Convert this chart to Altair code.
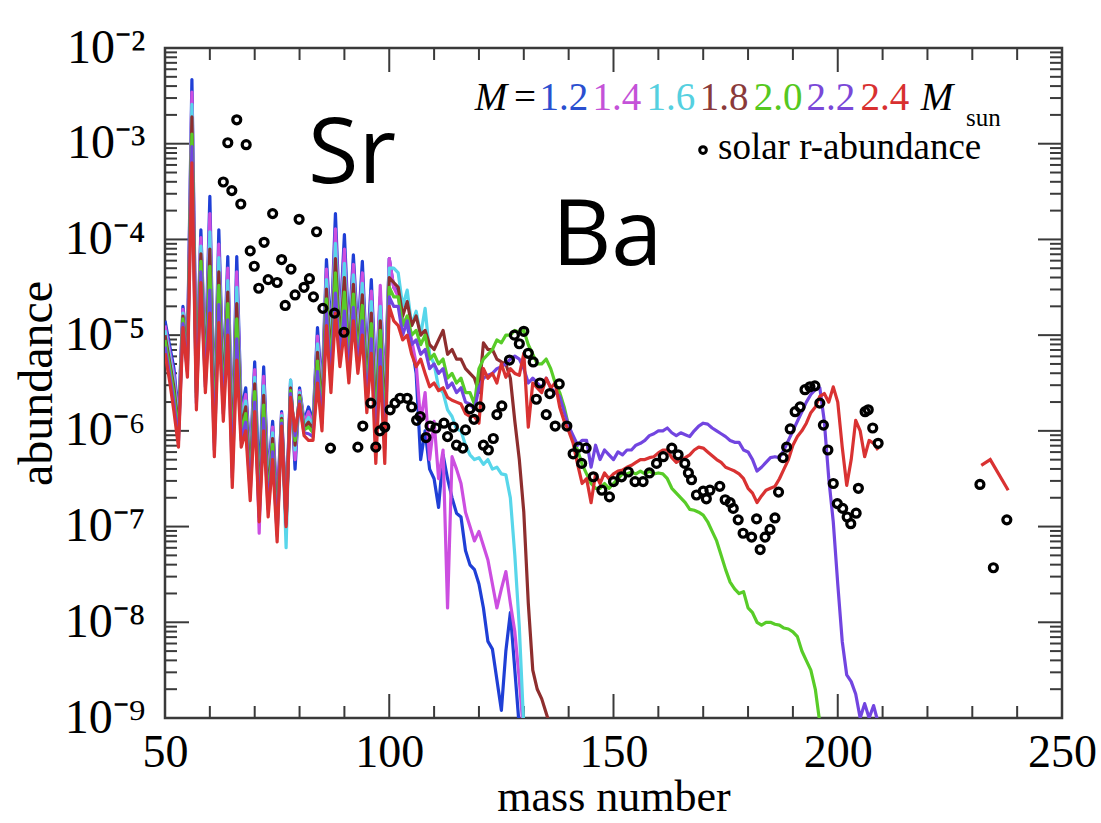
import altair as alt
import numpy as np
import pandas as pd

# ---------------- data (log10 abundance, consecutive mass numbers from A_START) ----------------
A_START = 50

m12_log = [-4.85, -5.10, -5.35, -5.85, -4.70, -5.15, -2.33, -5.45, -3.90, -5.30,
           -3.55, -5.90, -3.90, -5.50, -4.18, -6.10, -4.18, -5.80, -5.55, -6.30,
           -5.28, -6.60, -5.33, -6.50, -5.90, -6.80, -5.80, -6.90, -5.47, -6.40,
           -5.55, -5.90, -5.75, -5.90, -4.92, -5.60, -4.21, -5.00, -3.73, -4.90,
           -3.95, -5.00, -4.16, -5.00, -4.23, -5.30, -4.42, -5.50, -4.60, -5.60,
           -4.20, -4.50, -4.55, -4.85, -4.90, -5.10, -5.40, -6.30, -6.00, -6.40,
           -6.50, -6.80, -6.25, -6.50, -6.70, -6.86, -6.90, -7.25, -7.40, -7.45,
           -7.60, -7.85, -8.20, -8.28, -8.60, -8.92, -8.30, -7.90, -8.50, -9.10]

m14_log = [-4.90, -5.16, -5.42, -5.90, -4.73, -5.19, -2.46, -5.50, -3.98, -5.35,
           -3.73, -5.96, -4.05, -5.56, -4.30, -6.17, -4.34, -5.86, -5.62, -6.36,
           -5.36, -7.07, -5.43, -6.56, -5.96, -6.85, -5.82, -6.92, -5.50, -6.30,
           -5.58, -5.92, -5.80, -5.93, -5.01, -5.66, -4.31, -5.09, -3.89, -4.96,
           -4.10, -5.08, -4.26, -5.06, -4.35, -5.38, -4.54, -5.63, -4.48, -5.71,
           -4.20, -4.50, -4.60, -4.85, -4.85, -5.05, -5.30, -5.90, -5.60, -6.30,
           -5.90, -6.50, -6.20, -7.85, -6.27, -6.40, -6.55, -6.85, -7.00, -7.15,
           -7.05, -7.20, -7.35, -7.60, -7.85, -7.65, -7.47, -7.80, -8.10, -8.60, -9.20]

m16_log = [-4.95, -5.21, -5.49, -5.95, -4.77, -5.24, -2.59, -5.55, -4.07, -5.39,
           -3.92, -6.01, -4.19, -5.62, -4.43, -6.25, -4.50, -5.91, -5.69, -6.43,
           -5.44, -6.75, -5.53, -6.62, -6.02, -7.10, -5.84, -7.22, -5.47, -6.20,
           -5.60, -5.94, -5.86, -5.96, -5.09, -5.72, -4.42, -5.18, -4.04, -5.03,
           -4.25, -5.15, -4.37, -5.12, -4.46, -5.45, -4.65, -5.75, -4.70, -5.82,
           -4.30, -4.30, -4.35, -4.70, -4.53, -4.90, -4.75, -5.00, -4.72, -5.20,
           -5.30, -5.55, -5.60, -5.78, -5.85, -5.98, -6.00, -6.15, -6.25, -6.30,
           -6.28, -6.35, -6.30, -6.40, -6.38, -6.45, -6.46, -6.70, -7.30, -8.05, -9.10]

m18_log = [-5.00, -5.27, -5.55, -6.00, -4.80, -5.28, -2.72, -5.60, -4.15, -5.44,
           -4.10, -6.07, -4.34, -5.68, -4.55, -6.32, -4.67, -5.97, -5.75, -6.49,
           -5.51, -6.80, -5.63, -6.68, -6.08, -6.95, -5.87, -6.95, -5.55, -6.15,
           -5.63, -5.97, -5.91, -5.99, -5.18, -5.78, -4.52, -5.27, -4.20, -5.09,
           -4.40, -5.23, -4.47, -5.18, -4.58, -5.53, -4.77, -5.88, -4.85, -5.93,
           -4.40, -4.45, -4.50, -4.80, -4.65, -4.90, -4.80, -5.00, -4.95, -5.10,
           -5.15, -5.05, -4.95, -5.20, -5.15, -5.25, -5.25, -5.35, -5.40, -5.45,
           -5.60, -5.08, -5.15, -5.15, -5.25, -5.28, -5.30, -5.45, -5.90, -6.30,
           -6.85, -7.80, -8.50, -8.70, -8.80, -8.95, -9.10]

m20_log = [-5.05, -5.32, -5.62, -6.04, -4.83, -5.32, -2.90, -5.65, -4.23, -5.48,
           -4.28, -6.12, -4.48, -5.74, -4.67, -6.39, -4.83, -6.02, -5.82, -6.56,
           -5.59, -6.85, -5.73, -6.74, -6.14, -7.00, -5.89, -6.96, -5.58, -6.10,
           -5.65, -5.99, -5.96, -6.02, -5.27, -5.84, -4.62, -5.36, -4.35, -5.16,
           -4.55, -5.30, -4.57, -5.24, -4.69, -5.61, -4.88, -6.00, -4.95, -6.04,
           -4.50, -4.60, -4.60, -4.90, -4.80, -5.00, -4.95, -5.10, -5.00, -5.25,
           -5.20, -5.30, -5.25, -5.45, -5.40, -5.50, -5.45, -5.60, -5.60, -5.72,
           -5.35, -5.25, -5.20, -5.15, -5.05, -5.08, -5.00, -5.00, -4.95, -4.97,
           -4.95, -5.10, -5.20, -5.30, -5.30, -5.25, -5.35, -5.50, -5.60, -5.75,
           -5.95, -6.10, -6.20, -6.35, -6.45, -6.55, -6.60, -6.60, -6.55, -6.60,
           -6.55, -6.50, -6.45, -6.45, -6.43, -6.45, -6.42, -6.45, -6.42, -6.45,
           -6.44, -6.45, -6.50, -6.60, -6.65, -6.70, -6.75, -6.82, -6.83, -6.85,
           -6.88, -6.95, -7.05, -7.15, -7.30, -7.45, -7.58, -7.65, -7.70, -7.68,
           -7.85, -7.90, -8.00, -8.03, -8.00, -8.00, -8.02, -8.03, -8.06, -8.07,
           -8.10, -8.15, -8.30, -8.40, -8.50, -8.70, -9.05]

m22_log = [-5.12, -5.40, -5.71, -6.11, -4.88, -5.38, -3.03, -5.71, -4.34, -5.54,
           -4.53, -6.20, -4.68, -5.82, -4.84, -6.49, -5.04, -6.10, -5.91, -6.64,
           -5.70, -6.90, -5.87, -6.82, -6.22, -7.08, -5.92, -6.98, -5.61, -6.05,
           -5.69, -6.02, -6.03, -6.06, -5.38, -5.92, -4.76, -5.48, -4.56, -5.24,
           -4.75, -5.40, -4.71, -5.32, -4.85, -5.71, -5.04, -6.17, -5.15, -6.19,
           -4.60, -4.70, -4.70, -5.00, -4.85, -5.10, -5.05, -5.20, -5.15, -5.35,
           -5.30, -5.40, -5.35, -5.55, -5.50, -5.60, -5.55, -5.70, -5.72, -5.78,
           -5.55, -5.45, -5.42, -5.40, -5.35, -5.33, -5.30, -5.25, -5.22, -5.25,
           -5.35, -5.50, -5.45, -5.50, -5.55, -5.45, -5.55, -5.60, -5.64, -5.80,
           -5.95, -6.05, -6.15, -6.10, -6.10, -6.38, -6.15, -6.30, -6.20, -6.25,
           -6.30, -6.22, -6.25, -6.20, -6.20, -6.15, -6.13, -6.10, -6.05, -6.03,
           -6.00, -6.00, -5.97, -6.02, -6.05, -6.02, -6.04, -6.06, -6.00, -5.95,
           -5.92, -5.93, -5.97, -6.00, -6.03, -6.06, -6.10, -6.12, -6.12, -6.20,
           -6.22, -6.30, -6.42, -6.38, -6.33, -6.28, -6.27, -6.28, -6.20, -6.10,
           -6.00, -5.90, -5.80, -5.70, -5.62, -5.57, -5.55, -5.90, -6.50, -6.95,
           -7.60, -8.20, -8.55, -8.62, -8.75, -9.00, -8.85, -9.00, -8.87, -9.05]

m24_log = [-5.19, -5.47, -5.80, -6.17, -4.92, -5.44, -3.20, -5.78, -4.45, -5.60,
           -4.77, -6.27, -4.87, -5.90, -5.00, -6.59, -5.26, -6.17, -6.00, -6.73,
           -5.80, -6.95, -6.00, -6.90, -6.30, -7.16, -5.95, -7.00, -5.65, -6.00,
           -5.72, -6.05, -6.10, -6.10, -5.50, -6.00, -4.90, -5.60, -4.77, -5.33,
           -4.95, -5.50, -4.85, -5.40, -5.00, -5.81, -5.19, -6.34, -5.33, -6.34,
           -4.70, -4.85, -4.90, -5.05, -5.00, -5.20, -5.33, -5.25, -5.40, -5.54,
           -5.50, -5.58, -5.55, -5.65, -5.68, -5.70, -5.72, -5.82, -5.85, -5.85,
           -5.92, -5.35, -5.45, -5.40, -5.50, -5.30, -5.44, -5.35, -5.40, -5.42,
           -5.19, -5.96, -5.50, -5.55, -5.60, -5.45, -5.55, -5.50, -5.75, -5.90,
           -6.00, -6.13, -6.35, -6.55, -6.50, -6.75, -6.45, -6.55, -6.44, -6.50,
           -6.45, -6.42, -6.41, -6.38, -6.36, -6.33, -6.30, -6.30, -6.28, -6.27,
           -6.23, -6.20, -6.20, -6.28, -6.33, -6.30, -6.28, -6.25, -6.20, -6.17,
           -6.18, -6.22, -6.26, -6.30, -6.33, -6.38, -6.40, -6.42, -6.45, -6.50,
           -6.60, -6.65, -6.75, -6.68, -6.62, -6.60, -6.58, -6.50, -6.40, -6.30,
           -6.15, -6.06, -6.00, -5.92, -5.81, -5.75, -5.64, -5.61, -5.70, -5.54,
           -5.70, -6.17, -6.57, -6.30, -5.89, -6.00, -6.27, -6.10, -6.13, -6.20]

# actinide segment of the 2.4 Msun model
m24_act_A = [232, 234, 238]
m24_act_log = [-6.36, -6.30, -6.62]

# solar r-process abundances
solar_A = [63.0, 64.0, 64.9, 66.0, 66.9, 68.1, 69.0, 69.9, 70.9, 72.1, 73.0, 74.0, 75.0, 76.0,
           76.8, 78.1, 79.0, 79.9, 81.0, 82.2, 83.1, 83.8, 85.2, 86.9, 87.8, 89.9, 93.0, 94.1,
           95.9, 97.0, 97.9, 99.0, 100.2, 101.3, 102.4, 104.0, 105.0, 106.1, 106.9, 108.2,
           109.1, 110.4, 112.2, 113.0, 114.3, 115.0, 116.4, 117.0, 118.0, 118.9, 120.2, 121.0,
           122.1, 123.2, 124.0, 125.1, 126.8, 127.9, 129.0, 130.0, 131.0, 132.1, 132.8, 133.6,
           135.0, 135.8, 137.0, 137.9, 139.6, 141.0, 142.2, 142.9, 143.9, 145.5, 147.4, 149.1,
           150.0, 151.8, 153.3, 154.8, 156.6, 158.0, 159.6, 161.1, 163.0, 164.4, 165.9, 166.7,
           167.4, 168.5, 170.0, 170.7, 171.5, 173.7, 174.9, 176.0, 176.7, 177.8, 178.9, 180.8,
           181.9, 182.7, 183.8, 184.9, 186.0, 186.8, 187.8, 188.6, 189.4, 190.5, 191.6, 192.7,
           193.8, 194.9, 196.0, 196.8, 197.8, 199.0, 199.9, 201.1, 202.1, 202.9, 204.1, 204.6,
           206.1, 206.8, 207.8, 209.0, 231.7, 234.7, 237.7]
solar_log = [-3.40, -2.99, -3.49, -2.75, -3.63, -3.01, -4.12, -4.28, -4.51, -4.03, -4.42, -3.73,
             -4.45, -4.21, -4.69, -4.31, -4.58, -3.79, -4.50, -4.41, -4.60, -3.92, -4.72, -6.18,
             -4.77, -4.97, -6.17, -5.95, -5.71, -6.17, -6.00, -5.96, -5.78, -5.71, -5.66, -5.66,
             -5.75, -5.89, -5.85, -6.07, -5.95, -5.97, -5.92, -6.06, -5.96, -6.15, -6.18, -5.99,
             -5.77, -5.88, -5.75, -6.15, -6.20, -6.08, -5.83, -5.74, -5.26, -5.00, -5.09, -4.96,
             -5.19, -5.28, -5.67, -5.50, -5.83, -5.61, -5.95, -5.51, -5.95, -6.24, -6.17, -6.34,
             -6.18, -6.48, -6.62, -6.69, -6.53, -6.48, -6.43, -6.53, -6.53, -6.44, -6.34, -6.27,
             -6.18, -6.25, -6.34, -6.44, -6.51, -6.67, -6.63, -6.71, -6.62, -6.58, -6.72, -6.75,
             -6.81, -6.93, -7.07, -7.11, -6.92, -7.24, -7.11, -7.03, -6.91, -6.64, -6.28, -6.17,
             -5.98, -5.80, -5.75, -5.57, -5.54, -5.53, -5.71, -5.94, -6.20, -6.55, -6.76, -6.81,
             -6.90, -6.97, -6.86, -6.60, -5.80, -5.78, -5.97, -6.13, -6.56, -7.43, -6.93]

masses_label = ["1.2", "1.4", "1.6", "1.8", "2.0", "2.2", "2.4"]

# ---------------- styles ----------------
LINE_COLORS = ["#1f3fd6", "#cc4ee0", "#58d6ea", "#8e2e2e", "#58cc28", "#7245e0", "#d93232"]
LEGEND_COLORS = ["#2a4fd0", "#c452d8", "#55d0e0", "#8a3a3a", "#55c820", "#7a48d8", "#d83030"]
SERIF = "Liberation Serif"
W, H = 897, 670
FRAME = "#3a3a3a"


def model_frame(logs, start=A_START):
    return pd.DataFrame({"A": start + np.arange(len(logs)),
                         "abundance": 10.0 ** np.array(logs)})


x_axis = alt.Axis(values=[50, 100, 150, 200, 250], ticks=False, tickSize=0, domain=False,
                  grid=False, labelFont=SERIF, labelFontSize=46, labelColor="black",
                  labelPadding=12, labelFlush=False, labelOverlap=False,
                  title="mass number", titleFont=SERIF, titleFontSize=44,
                  titleFontWeight="normal", titleColor="black",
                  titleBaseline="alphabetic", titleY=92)
y_axis = alt.Axis(values=[1e-9, 1e-8, 1e-7, 1e-6, 1e-5, 1e-4, 1e-3, 1e-2], ticks=False,
                  tickSize=0, domain=False, grid=False,
                  labelExpr="'10\u207b' + ['\u2070','\u00b9','\u00b2','\u00b3','\u2074','\u2075','\u2076','\u2077','\u2078','\u2079'][round(-log(datum.value)/LN10)]",
                  labelFont=SERIF, labelFontSize=48, labelColor="black", labelPadding=20,
                  labelFlush=False, labelOverlap=False, labelBaseline="middle",
                  title="abundance", titleFont=SERIF, titleFontSize=48,
                  titleFontWeight="normal", titleColor="black", titleAngle=-90,
                  titleX=-128, titleY=H / 2, titleAlign="center", titleBaseline="middle")

X = alt.X("A:Q", scale=alt.Scale(domain=[50, 250], nice=False, zero=False), axis=x_axis)
Y = alt.Y("abundance:Q", scale=alt.Scale(type="log", domain=[1e-9, 1e-2], nice=False),
          axis=y_axis)

layers = []

# ---- inward ticks on all four sides ----
x_major_ticks = [100, 150, 200]
x_minor_ticks = [60, 70, 80, 90, 110, 120, 130, 140, 160, 170, 180, 190, 210, 220, 230, 240]
y_major_ticks = [1e-8, 1e-7, 1e-6, 1e-5, 1e-4, 1e-3]
y_minor_ticks = [k * 10.0 ** e for e in range(-9, -2) for k in range(2, 10)]

dxmaj = pd.DataFrame({"A": x_major_ticks})
dxmin = pd.DataFrame({"A": x_minor_ticks})
dymaj = pd.DataFrame({"abundance": y_major_ticks})
dymin = pd.DataFrame({"abundance": y_minor_ticks})
for d, L in [(dxmaj, 24), (dxmin, 12)]:
    layers.append(alt.Chart(d).mark_rule(color=FRAME, strokeWidth=2).encode(
        x=X, y=alt.value(H), y2=alt.value(H - L)))
    layers.append(alt.Chart(d).mark_rule(color=FRAME, strokeWidth=2).encode(
        x=X, y=alt.value(0), y2=alt.value(L)))
for d, L in [(dymaj, 24), (dymin, 12)]:
    layers.append(alt.Chart(d).mark_rule(color=FRAME, strokeWidth=2).encode(
        y=Y, x=alt.value(0), x2=alt.value(L)))
    layers.append(alt.Chart(d).mark_rule(color=FRAME, strokeWidth=2).encode(
        y=Y, x=alt.value(W), x2=alt.value(W - L)))

# ---- model lines (1.2 drawn first, 2.4 on top) ----
for logs, col in zip([m12_log, m14_log, m16_log, m18_log, m20_log, m22_log, m24_log],
                     LINE_COLORS):
    layers.append(alt.Chart(model_frame(logs)).mark_line(
        color=col, strokeWidth=3.2, clip=True, strokeJoin="round").encode(x=X, y=Y))
act = pd.DataFrame({"A": m24_act_A, "abundance": 10.0 ** np.array(m24_act_log)})
layers.append(alt.Chart(act).mark_line(color=LINE_COLORS[-1], strokeWidth=3.2, clip=True)
              .encode(x=X, y=Y))

# ---- solar r-abundance circles ----
solar = pd.DataFrame({"A": solar_A, "abundance": 10.0 ** np.array(solar_log)})
layers.append(alt.Chart(solar).mark_point(shape="circle", filled=False, color="black",
                                          opacity=1, strokeWidth=3.2, size=64, clip=True)
              .encode(x=X, y=Y))

# ---- in-plot legend (placed in data coordinates) ----
leg_row1 = 10 ** -2.648
leg_nums = pd.DataFrame({"A": [138.96, 150.78, 162.82, 174.64, 186.68, 198.49, 210.53],
                         "abundance": [leg_row1] * 7, "label": masses_label,
                         "col": LEGEND_COLORS})
layers.append(alt.Chart(leg_nums).mark_text(font=SERIF, fontSize=39, align="center",
                                            baseline="alphabetic")
              .encode(x=X, y=Y, text="label:N", color=alt.Color("col:N", scale=None)))
leg_M = pd.DataFrame({"A": [122.69, 222.13], "abundance": [leg_row1] * 2, "label": ["M", "M"]})
layers.append(alt.Chart(leg_M).mark_text(font=SERIF, fontSize=39, fontStyle="italic",
                                         align="center", baseline="alphabetic", color="black")
              .encode(x=X, y=Y, text="label:N"))
leg_eq = pd.DataFrame({"A": [130.27], "abundance": [leg_row1], "label": ["="]})
layers.append(alt.Chart(leg_eq).mark_text(font=SERIF, fontSize=39, align="center",
                                          baseline="alphabetic", color="black")
              .encode(x=X, y=Y, text="label:N"))
leg_sun = pd.DataFrame({"A": [228.6], "abundance": [10 ** -2.815], "label": ["sun"]})
layers.append(alt.Chart(leg_sun).mark_text(font=SERIF, fontSize=25, align="left",
                                           baseline="alphabetic", color="black")
              .encode(x=X, y=Y, text="label:N"))
leg_dot = pd.DataFrame({"A": [169.96], "abundance": [10 ** -3.066]})
layers.append(alt.Chart(leg_dot).mark_point(shape="circle", filled=False, color="black",
                                            opacity=1, strokeWidth=3, size=45)
              .encode(x=X, y=Y))
leg_solar = pd.DataFrame({"A": [173.3], "abundance": [10 ** -3.16],
                          "label": ["solar r-abundance"]})
layers.append(alt.Chart(leg_solar).mark_text(font=SERIF, fontSize=37, align="left",
                                             baseline="alphabetic", color="black")
              .encode(x=X, y=Y, text="label:N"))

# ---- element annotations ----
elements = pd.DataFrame({"A": [91.7, 148.6], "abundance": [10 ** -3.41, 10 ** -4.27],
                         "label": ["Sr", "Ba"]})
layers.append(alt.Chart(elements).mark_text(font="Open Sans", fontSize=92, align="center",
                                            baseline="alphabetic", color="black")
              .encode(x=X, y=Y, text="label:N"))

chart = alt.layer(*layers).properties(
    width=W, height=H,
    padding={"left": 165, "top": 48, "right": 39, "bottom": 105},
    autosize=alt.AutoSizeParams(type="none"),
    background="white",
).configure_view(stroke=FRAME, strokeWidth=2.5)

chart.save("out.html", embed_options={"renderer": "svg", "actions": False})
